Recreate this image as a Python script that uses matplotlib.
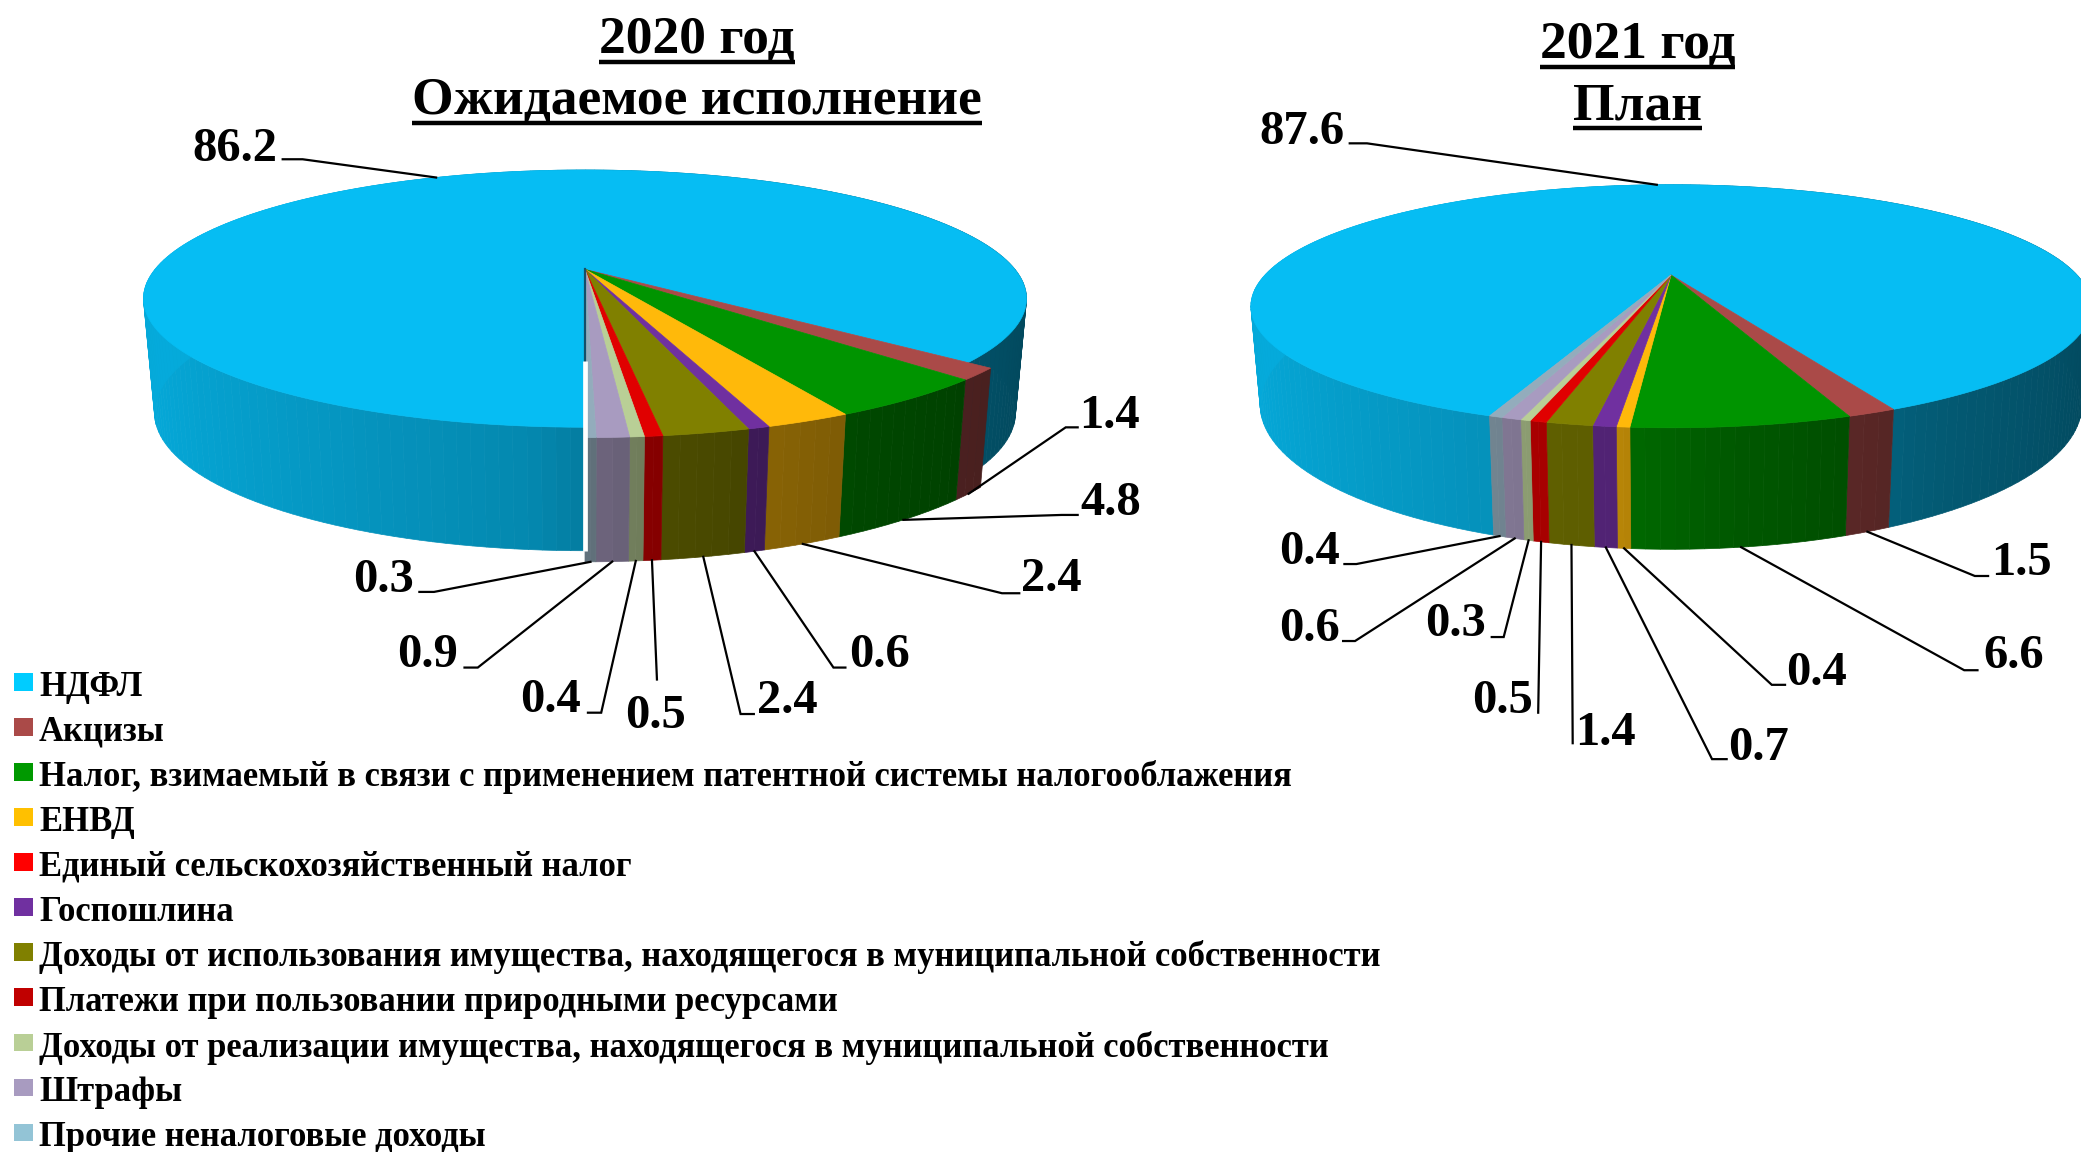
import numpy as np
import matplotlib
matplotlib.use('Agg')
import matplotlib.pyplot as plt
from matplotlib.colors import to_rgb
from matplotlib.patches import Polygon, Rectangle

plt.rcParams['font.family'] = ['Liberation Serif', 'DejaVu Serif']
plt.rcParams['font.weight'] = 'bold'

# data
categories = ['НДФЛ', 'Акцизы', 'Налог, взимаемый в связи с применением патентной системы налогооблажения',
              'ЕНВД', 'Единый сельскохозяйственный налог', 'Госпошлина',
              'Доходы от использования имущества, находящегося в муниципальной собственности',
              'Платежи при пользовании природными ресурсами',
              'Доходы от реализации имущества, находящегося в муниципальной собственности',
              'Штрафы', 'Прочие неналоговые доходы']
values_2020 = [86.2, 1.4, 4.8, 2.4, 0.0, 0.6, 2.4, 0.5, 0.4, 0.9, 0.3]
values_2021 = [87.6, 1.5, 6.6, 0.4, 0.0, 0.7, 1.4, 0.5, 0.3, 0.6, 0.4]
legend_colors = ['#00CCFF', '#AA4A48', '#009900', '#FFC000', '#FF0000', '#7030A0',
                 '#808000', '#C00000', '#B9CF96', '#A89BC0', '#93C4D6']
slice_colors = ['#06BDF3', '#AA4A48', '#009400', '#FFB90A', '#FF0000', '#7030A0',
                '#808000', '#E00000', '#B9CF96', '#A89BC0', '#93ACBC']

# geometry in full pixels
pie_2020 = dict(cx=585, y_top=269.4, s_top=122, r=430, p=0.227, fx=0.975, y_bot=381.4, s_bot=130.9,
                start=0.0, pop=1.05)
pie_2021 = dict(cx=1671, y_top=275, s_top=113.5, r=406, p=0.257, fx=0.978, y_bot=367.6, s_bot=135,
                start=19.8, pop=1.0)

# label layout in the 1568 wide view: text centre, elbow, end of the short horizontal
labels_2020 = [((177, 110), (228, 120), (213, 120)), ((836, 311), (803, 322), (812, 322)),
               ((837, 377), (800, 388), (812, 388)), ((792, 434), (755, 447), (768, 447)), None,
               ((663, 491), (628, 503), (637, 503)), ((593, 526), (558, 538), (568, 538)),
               ((494, 537), (495, 512), (495, 512)), ((415, 525), (453, 537), (443, 537)),
               ((322, 491), (360, 503), (350, 503)), ((289, 435), (327, 446), (316, 446))]
labels_2021 = [((981, 97), (1030, 108), (1017, 108)), ((1523, 422), (1488, 434), (1498, 434)),
               ((1517, 492), (1480, 505), (1490, 505)), ((1369, 505), (1335, 516), (1345, 516)), None,
               ((1325, 561), (1290, 572), (1301, 572)), ((1210, 550), (1185, 560), (1185, 560)),
               ((1132, 526), (1159, 537), (1159, 537)), ((1097, 468), (1133, 480), (1124, 480)),
               ((987, 472), (1021, 483), (1012, 483)), ((987, 414), (1022, 425), (1013, 425))]
K = 2081 / 1568


def project(pie, phi, depth=0, pop=1.0):
    # phi runs clockwise from the front of the pie
    phi = np.radians(phi)
    u, v = -np.sin(phi) * pop, np.cos(phi) * pop
    den = 1 - pie['p'] * v
    if depth == 0:
        return pie['cx'] + pie['r'] * u / den, pie['y_top'] + pie['s_top'] * v / den
    return pie['cx'] + pie['fx'] * pie['r'] * u / den, pie['y_bot'] + pie['s_bot'] * v / den


def shade(color, phi):
    # walls are lit from the left
    u = -np.sin(np.radians(phi))
    f = np.interp(u, [-1, -0.1, 0.1, 0.5, 1], [0.9, 0.72, 0.6, 0.48, 0.38])
    return tuple(c * f for c in to_rgb(color))


def draw_pie(ax, pie, values, label_layout):
    total = sum(values)
    phi = pie['start']
    for i, val in enumerate(values):
        if val == 0:
            continue
        sweep = val / total * 360
        pop = 1.0 if i == 0 else pie['pop']
        grid = np.linspace(phi, phi + sweep, max(int(sweep / 1.5), 2) + 1)
        for a, b in zip(grid[:-1], grid[1:]):
            xs, ys = project(pie, np.array([a, b]), 0, pop)
            xb, yb = project(pie, np.array([b, a]), 1, pop)
            col = shade(slice_colors[i], (a + b) / 2)
            ax.add_patch(Polygon(np.c_[np.r_[xs, xb], np.r_[ys, yb]], fc=col, ec=col, lw=0.5, zorder=2 + i * 0.1))
        x, y = project(pie, grid, 0, pop)
        top = np.c_[np.r_[pie['cx'], x], np.r_[pie['y_top'], y]]
        ax.add_patch(Polygon(top, fc=slice_colors[i], ec=slice_colors[i], lw=0.5, zorder=2.05 + i * 0.1))

        (tx, ty), elbow, hend = label_layout[i]
        mid = phi + sweep / 2
        # back slice gets its leader from the top rim, front ones from the bottom rim
        sx, sy = project(pie, mid, 0 if i == 0 else 1, pop)
        ax.plot([sx, elbow[0] * K, hend[0] * K], [sy, elbow[1] * K, hend[1] * K], color='black', lw=1.6,
                zorder=6, solid_joinstyle='miter')
        ax.text(tx * K, ty * K + 3, f'{val:.1f}', ha='center', va='center', fontsize=35, color='black', zorder=7)
        phi += sweep


def underlined(ax, x, y, s, size):
    t = ax.text(x, y + 4, s, ha='center', va='center', fontsize=size, color='black')
    bb = t.get_window_extent(ax.figure.canvas.get_renderer())
    ax.plot([bb.x0, bb.x1], [y + 0.48 * size * 100 / 72] * 2, color='black', lw=3.2, solid_capstyle='butt')


fig = plt.figure(figsize=(20.81, 11.52), dpi=100)
ax = fig.add_axes([0, 0, 1, 1])
ax.set_xlim(0, 2081)
ax.set_ylim(1152, 0)
ax.axis('off')

draw_pie(ax, pie_2020, values_2020, labels_2020)
draw_pie(ax, pie_2021, values_2021, labels_2021)

# seam between НДФЛ and the small slices of the first pie
x0, y0 = project(pie_2020, 0.0, 0)
x1, y1 = project(pie_2020, 0.0, 1)
ymid = pie_2020['y_top'] + 0.58 * (y0 - pie_2020['y_top'])
ax.plot([x0, x0], [pie_2020['y_top'], ymid], color='#14506a', lw=1.6, zorder=5)
ax.plot([x0, x0], [ymid, y1], color='white', lw=3.4, zorder=5, solid_capstyle='butt')

underlined(ax, 525 * K, 27 * K, '2020 год', 38.5)
underlined(ax, 525 * K, 73 * K, 'Ожидаемое исполнение', 38.5)
underlined(ax, 1234 * K, 31 * K, '2021 год', 38.5)
underlined(ax, 1234 * K, 77 * K, 'План', 38.5)

# legend
for i, name in enumerate(categories):
    yc = 682 + i * 45.07
    ax.add_patch(Rectangle((14, yc - 9), 18.7, 17.7, fc=legend_colors[i], ec='none', zorder=3))
    ax.text(39, yc + 5, name, ha='left', va='center', fontsize=24.9, color='black', zorder=3)

fig.savefig('out.png', dpi=100)
